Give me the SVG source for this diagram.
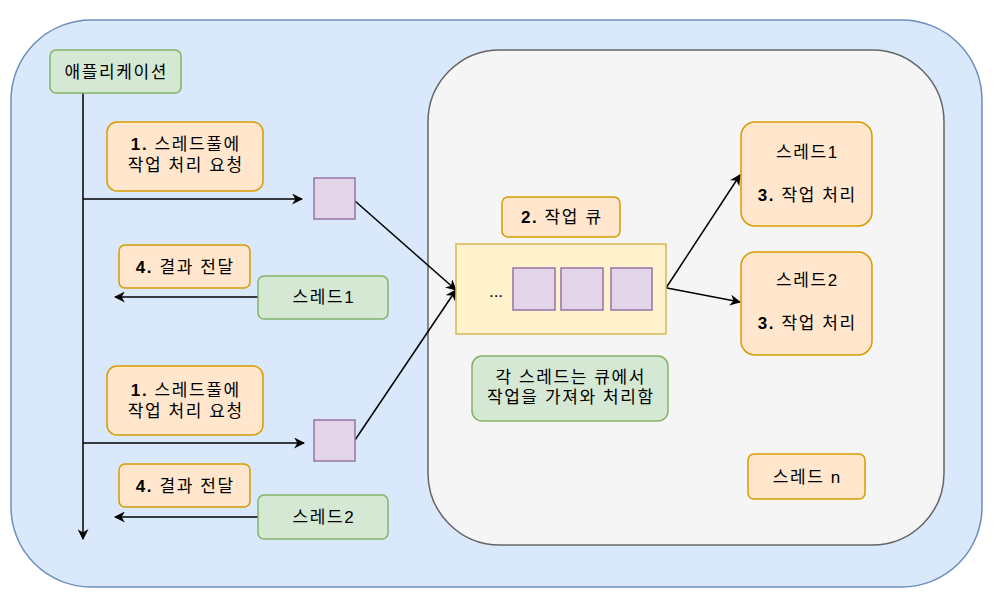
<svg xmlns="http://www.w3.org/2000/svg" width="1000" height="613" viewBox="0 0 1000 613">
<defs>
<style>
text{font-family:"Liberation Sans","Noto Sans CJK KR",sans-serif;font-size:17px;fill:#000;text-anchor:middle;letter-spacing:1.6px}
.b{font-weight:bold}
.orange{fill:#ffe6cc;stroke:#d79b00;stroke-width:1.5}
.green{fill:#d5e8d4;stroke:#82b366;stroke-width:1.5}
.purple{fill:#e1d5e7;stroke:#9673a6;stroke-width:1.5}
.edge{fill:none;stroke:#000;stroke-width:1.5}
</style>
<marker id="arr2" viewBox="0 0 10 10" refX="9" refY="5" markerWidth="11" markerHeight="11" markerUnits="userSpaceOnUse" orient="auto">
<path d="M0,0 L10,5 L0,10 L3,5 z" fill="#000"/>
</marker>
</defs>
<g id="outer"><rect x="11" y="20" width="971" height="567" rx="80" ry="80" fill="#dae8fc" stroke="#6c8ebf" stroke-width="1.5"/></g>
<g id="pool"><rect x="428" y="50" width="516" height="495" rx="72" ry="72" fill="#f5f5f5" stroke="#666666" stroke-width="1.5"/></g>
<g id="connectors">
<path class="edge" d="M83,93 V539" marker-end="url(#arr2)"/>
<path class="edge" d="M83,199 H302" marker-end="url(#arr2)"/>
<path class="edge" d="M258,297 H115" marker-end="url(#arr2)"/>
<path class="edge" d="M83,443 H304" marker-end="url(#arr2)"/>
<path class="edge" d="M258,517 H115" marker-end="url(#arr2)"/>
<path class="edge" d="M355,201 L456,290" marker-end="url(#arr2)"/>
<path class="edge" d="M355,440 L456,290" marker-end="url(#arr2)"/>
<path class="edge" d="M666,288 L740,175" marker-end="url(#arr2)"/>
<path class="edge" d="M667,288 L740,302" marker-end="url(#arr2)"/>
</g>
<g id="app"><rect class="green" x="50" y="50" width="131" height="43" rx="6"/><text x="116.3" y="77.5">애플리케이션</text></g>
<g id="req1"><rect class="orange" x="107" y="122" width="156" height="69" rx="10"/><text x="185.8" y="149.5"><tspan class="b">1.</tspan> 스레드풀에</text><text x="185.8" y="170.5">작업 처리 요청</text></g>
<g id="task1"><rect class="purple" x="314" y="178" width="41" height="41"/></g>
<g id="res1"><rect class="orange" x="119" y="245" width="131" height="43" rx="6"/><text x="185.3" y="272.5"><tspan class="b">4.</tspan> 결과 전달</text></g>
<g id="th1left"><rect class="green" x="258" y="276" width="130" height="43" rx="6"/><text x="323.8" y="302.5">스레드1</text></g>
<g id="req2"><rect class="orange" x="107" y="366" width="156" height="69" rx="10"/><text x="185.8" y="395.5"><tspan class="b">1.</tspan> 스레드풀에</text><text x="185.8" y="416.5">작업 처리 요청</text></g>
<g id="task2"><rect class="purple" x="314" y="420" width="41" height="41"/></g>
<g id="res2"><rect class="orange" x="119" y="464" width="131" height="43" rx="6"/><text x="185.3" y="491.5"><tspan class="b">4.</tspan> 결과 전달</text></g>
<g id="th2left"><rect class="green" x="258" y="495" width="130" height="44" rx="6"/><text x="323.8" y="523">스레드2</text></g>
<g id="queueLabel"><rect class="orange" x="502" y="197" width="118" height="40" rx="6"/><text x="561.8" y="222.5"><tspan class="b">2.</tspan> 작업 큐</text></g>
<g id="queue"><rect x="456" y="244" width="210" height="90" fill="#fff2cc" stroke="#d6b656" stroke-width="1.5"/><text x="496" y="297" style="letter-spacing:0">...</text>
<rect class="purple" x="513" y="268" width="42" height="42"/><rect class="purple" x="561" y="268" width="42" height="42"/><rect class="purple" x="611" y="268" width="41" height="42"/></g>
<g id="note"><rect class="green" x="472" y="356" width="196" height="65" rx="10"/><text x="570.8" y="382.5">각 스레드는 큐에서</text><text x="570.8" y="402.5">작업을 가져와 처리함</text></g>
<g id="th1"><rect class="orange" x="741" y="122" width="131" height="104" rx="14"/><text x="807.3" y="157.5">스레드1</text><text x="807.3" y="200.5"><tspan class="b">3.</tspan> 작업 처리</text></g>
<g id="th2"><rect class="orange" x="741" y="252" width="131" height="103" rx="14"/><text x="807.3" y="285.5">스레드2</text><text x="807.3" y="328.5"><tspan class="b">3.</tspan> 작업 처리</text></g>
<g id="thn"><rect class="orange" x="748" y="454" width="117" height="45" rx="6"/><text x="807.3" y="482.5">스레드 n</text></g>
</svg>
